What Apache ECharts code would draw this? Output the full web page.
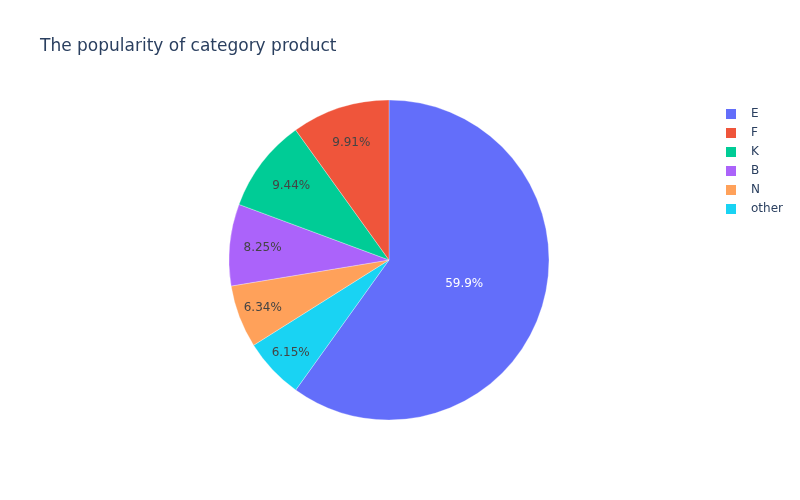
<!DOCTYPE html>
<html>
<head>
<meta charset="utf-8">
<script src="https://cdn.jsdelivr.net/npm/echarts@6/dist/echarts.min.js"></script>
<style>html,body{margin:0;padding:0;background:#fff;}#c{width:800px;height:500px;}</style>
</head>
<body>
<div id="c"></div>
<script>
// Data (clockwise from 12 o'clock)
const categories = ['E', 'other', 'N', 'B', 'K', 'F'];
const values = [59.9, 6.15, 6.34, 8.25, 9.44, 9.91];
const legendOrder = ['E', 'F', 'K', 'B', 'N', 'other'];
const colorMap = {E:'#636efa', F:'#EF553B', K:'#00cc96', B:'#ab63fa', N:'#FFA15A', other:'#19d3f3'};
// which label ring each slice's text sits on (Plotly pushes small-slice text outward)
const labelRing = {E:'main', F:'inner', K:'inner', B:'mid', N:'outer', other:'outer'};

const font = '"DejaVu Sans", Verdana, sans-serif';
const fmt = v => Number(v).toPrecision(3) + '%';

const sliceData = categories.map((c, i) => ({
  name: c, value: values[i],
  itemStyle: {color: colorMap[c]}
}));
const ringData = ring => categories.map((c, i) => ({
  name: c, value: values[i],
  label: {show: labelRing[c] === ring}
}));

function labelRingSeries(ring, r0, r1, color) {
  return {
    type: 'pie',
    center: [389, 260],
    radius: [r0, r1],
    startAngle: 90,
    clockwise: true,
    avoidLabelOverlap: false,
    silent: true,
    legendHoverLink: false,
    itemStyle: {color: 'rgba(0,0,0,0)', borderWidth: 0},
    label: {position: 'inside', fontFamily: font, fontSize: 12, color: color,
            formatter: p => fmt(p.value)},
    labelLine: {show: false},
    data: ringData(ring)
  };
}

const chart = echarts.init(document.getElementById('c'), null, {renderer: 'canvas'});
chart.setOption({
  animation: false,
  backgroundColor: '#ffffff',
  title: {
    text: 'The popularity of category product',
    left: 35, top: 33,
    textStyle: {fontFamily: font, fontSize: 17, fontWeight: 'normal', color: '#2a3f5f'}
  },
  legend: {
    orient: 'vertical',
    left: 724, top: 107,
    padding: 0,
    data: legendOrder,
    icon: 'rect',
    itemWidth: 12, itemHeight: 12,
    itemGap: 5,
    selectedMode: false,
    textStyle: {fontFamily: font, fontSize: 12, color: '#2a3f5f', padding: [0, 0, 0, 9]}
  },
  series: [
    {
      type: 'pie',
      center: [389, 260],
      radius: [0, 160],
      startAngle: 90,
      clockwise: true,
      avoidLabelOverlap: false,
      silent: true,
      itemStyle: {borderColor: '#ffffff', borderWidth: 0.3},
      label: {show: false},
      labelLine: {show: false},
      data: sliceData
    },
    labelRingSeries('main', 0, 152, '#ffffff'),
    labelRingSeries('inner', 80, 160, '#444444'),
    labelRingSeries('mid', 88, 160, '#444444'),
    labelRingSeries('outer', 104, 160, '#444444')
  ]
});
</script>
</body>
</html>
